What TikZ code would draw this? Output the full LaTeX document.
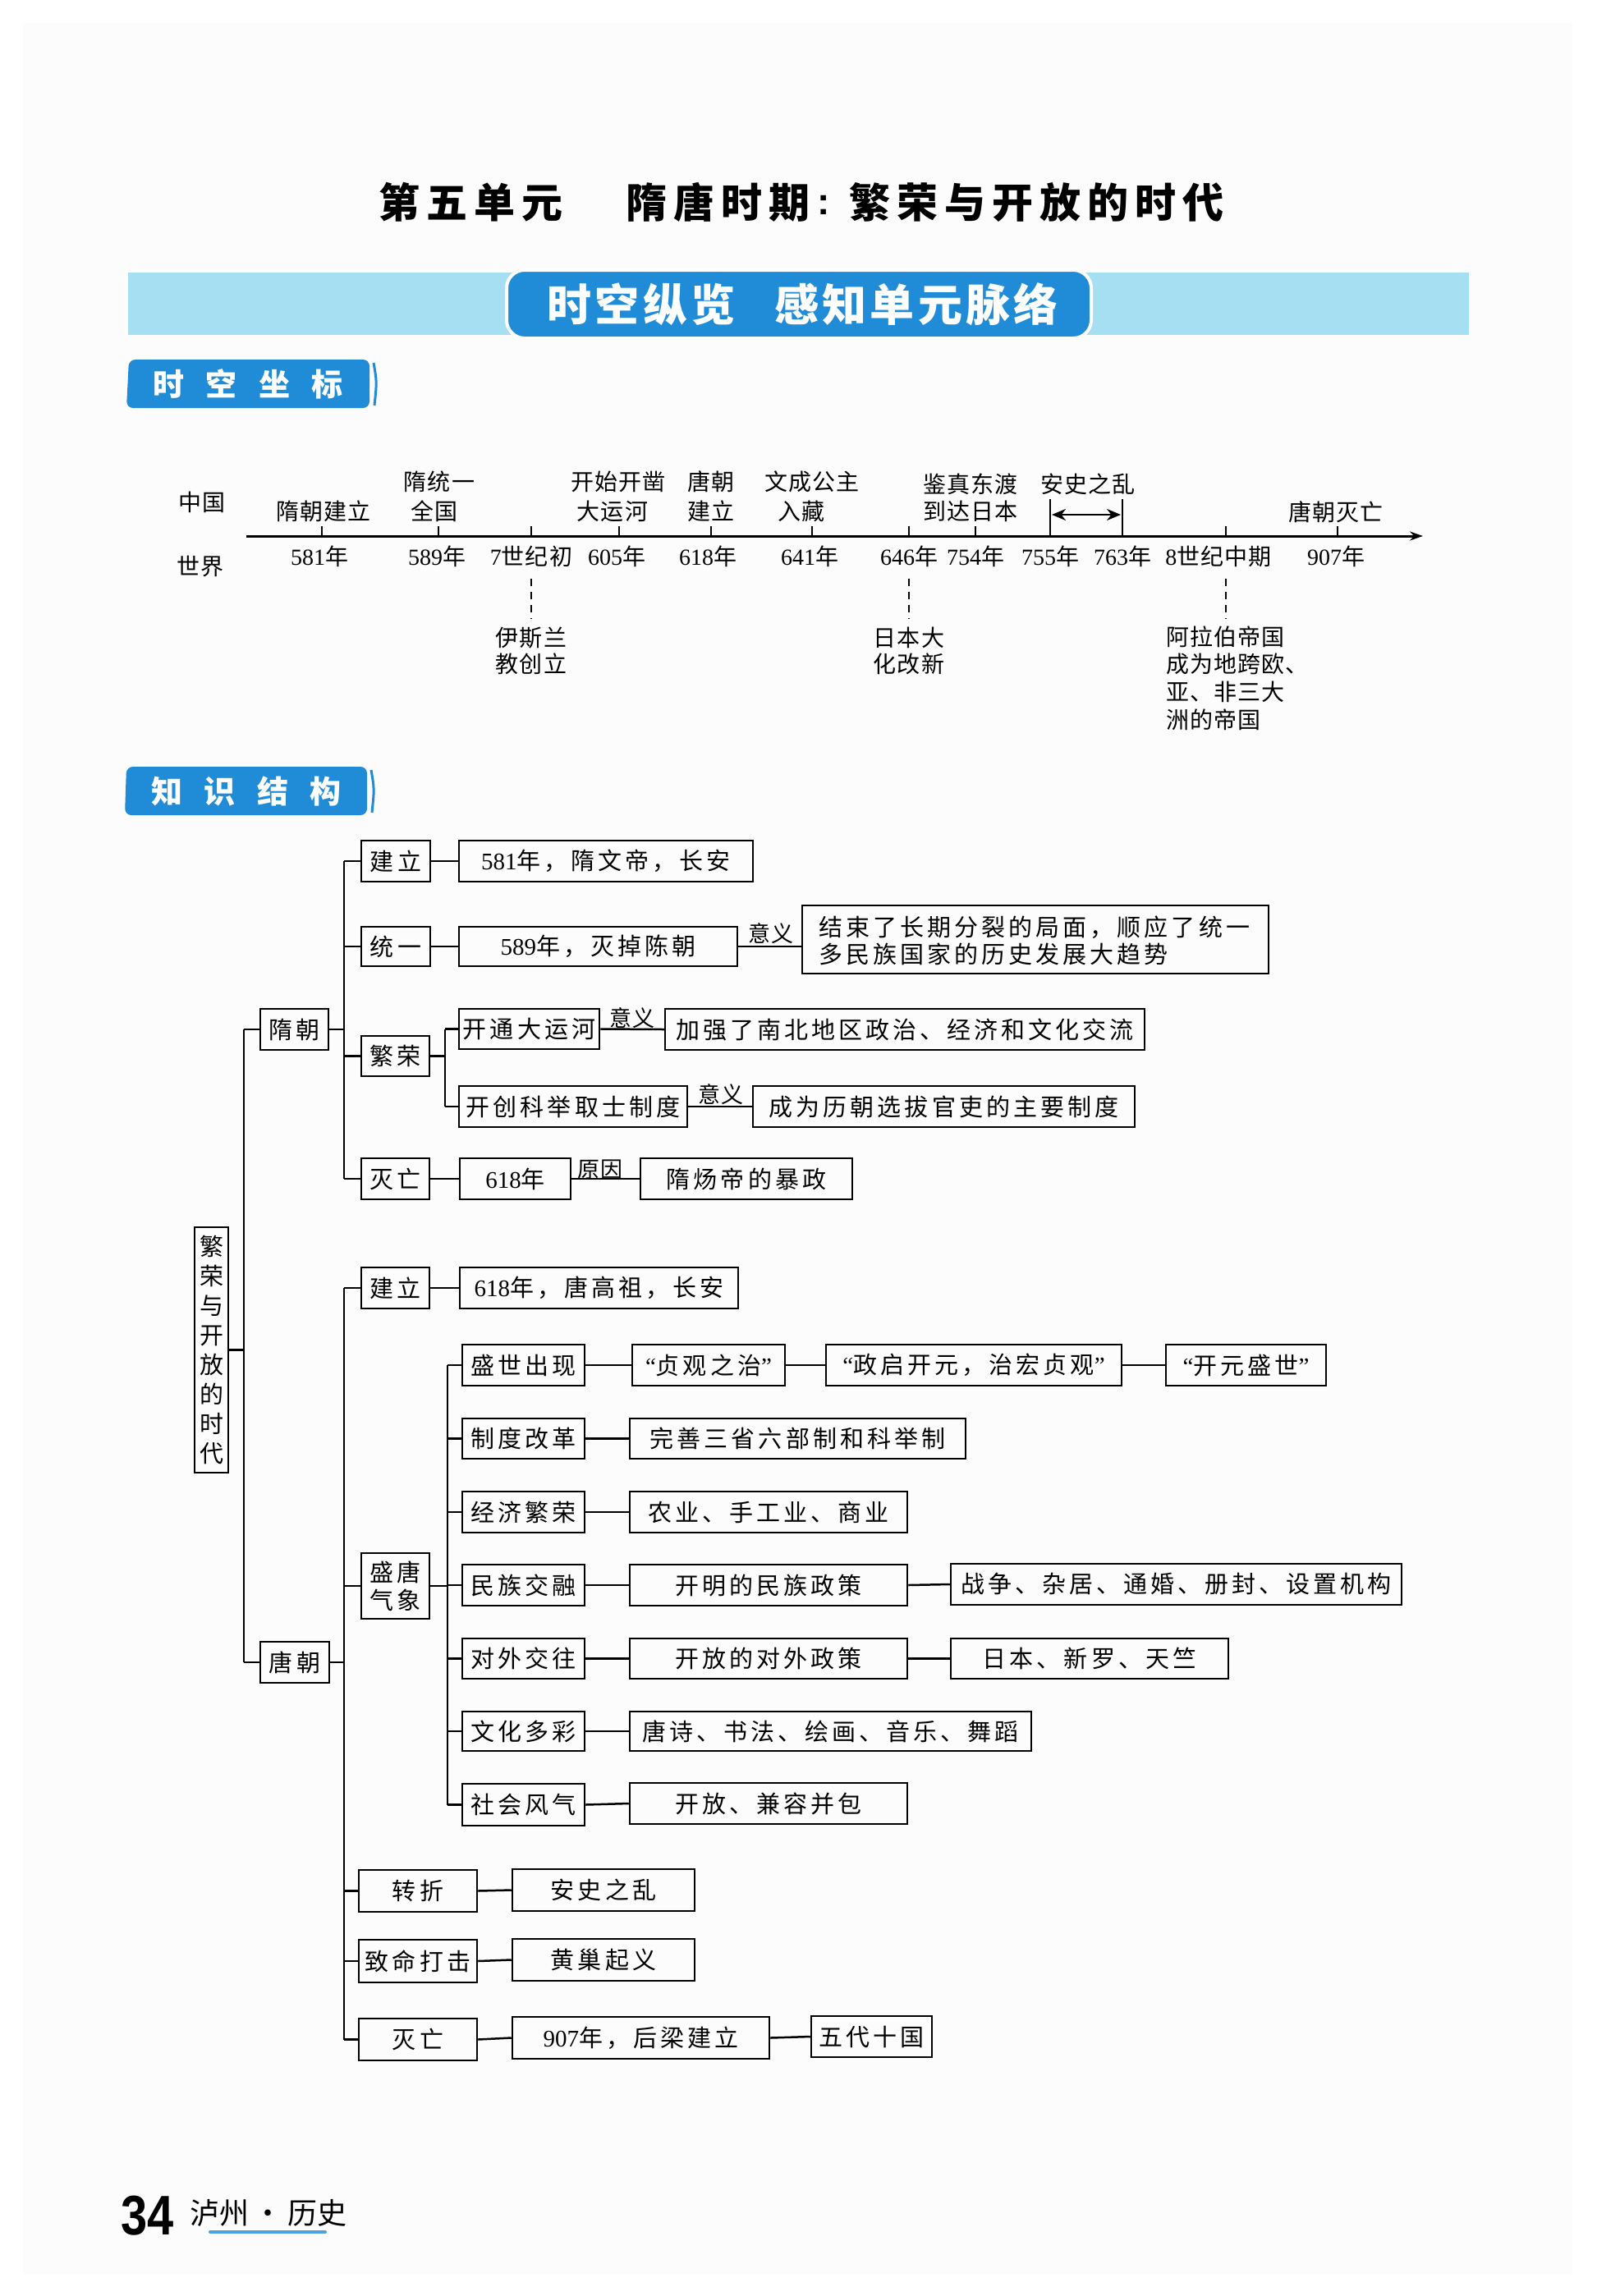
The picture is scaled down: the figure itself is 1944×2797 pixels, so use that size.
\documentclass[tikz,border=0pt]{standalone}
\usepackage{fontspec}
\setmainfont{Noto Sans CJK SC}
\newfontfamily\tnum{Liberation Serif}
\newfontfamily\snum{Liberation Sans}
\newfontfamily\treefont[LetterSpace=14]{Noto Sans CJK SC}
\newfontfamily\tlfont[LetterSpace=4]{Noto Sans CJK SC}
\newfontfamily\titlefont[LetterSpace=16]{Noto Sans CJK SC}
\newfontfamily\bannerfont[LetterSpace=8]{Noto Sans CJK SC}
\newfontfamily\tabfont[LetterSpace=70]{Noto Sans CJK SC}
\usetikzlibrary{arrows.meta}
\definecolor{band}{RGB}{166,222,242}
\definecolor{tabblue}{RGB}{32,140,216}
\definecolor{pagebg}{RGB}{252,252,252}
\newcommand\nm[1]{{\tnum #1}}
\newcommand\bx[6]{\node[tbox, minimum width={#4-#2}, minimum height={#5-#3}] (#1) at ({(#2+#4)/2},{(#3+#5)/2}) {#6};}
\tikzset{
  tbox/.style={draw, line width=2.5pt, inner sep=0pt, font=\treefont\fontsize{29}{33}\selectfont},
  tl/.style={inner sep=0pt, font=\tlfont\fontsize{28}{30}\selectfont},
  lbl/.style={inner sep=0pt, font=\tlfont\fontsize{27}{30}\selectfont},
  conn/.style={line width=2.5pt},
}
\begin{document}
\begin{tikzpicture}[x=1pt,y=-1pt]
\useasboundingbox (0,0) rectangle (1944,2797);
\fill[white] (0,0) rectangle (1944,2797);
\fill[pagebg] (28,28) rectangle (1915,2770);

% title
\begin{scope}[every node/.style={inner sep=0pt, font=\titlefont\bfseries\fontsize{50}{54}\selectfont}]
\node (ti1) at (573,246) {第五单元};
\node (ti2) at (874,246) {隋唐时期};
\node[font=\snum\bfseries\fontsize{46}{50}\selectfont] (ti3) at (1003,250) {:};
\node (ti4) at (1262,246) {繁荣与开放的时代};
\end{scope}

% banner
\fill[band] (156,332) rectangle (1789,408);
\draw[fill=tabblue, draw=white, line width=4pt, rounded corners=22pt] (617,329) rectangle (1329,412);
\node[inner sep=0pt, text=white, font=\bannerfont\bfseries\fontsize{54}{56}\selectfont] (bn1) at (781,371) {时空纵览};
\node[inner sep=0pt, text=white, font=\bannerfont\bfseries\fontsize{54}{56}\selectfont] (bn2) at (1116,371) {感知单元脉络};

% tab 1
\fill[tabblue, rounded corners=8pt] (157,438) -- (450,438) -- (450,497) -- (154,497) -- cycle;
\draw[tabblue, line width=3pt] (455,442) .. controls (459,465) .. (456,494);
\node[inner sep=0pt, anchor=west, text=white, font=\tabfont\bfseries\fontsize{38}{40}\selectfont] (tab1) at (186,468) {时空坐标};

% timeline
\draw[line width=3pt, -{Stealth[length=16pt,width=11pt]}] (300,653) -- (1733,653);
\foreach \x in {392,534,647,754,866,989,1107,1188,1493,1629}
  \draw[line width=2pt] (\x,653) -- (\x,641);
\draw[line width=2.2pt] (1279,608) -- (1279,653);
\draw[line width=2.2pt] (1367,608) -- (1367,653);
\draw[line width=2.6pt, {Stealth[length=17pt,width=14pt]}-{Stealth[length=17pt,width=14pt]}] (1281,627) -- (1365,627);
\foreach \x in {647,1107,1493}
  \draw[line width=1.8pt, dash pattern=on 9pt off 7pt] (\x,705) -- (\x,754);

\node[tl] (zg) at (246,612) {中国};
\node[tl] (sj) at (244,690) {世界};
\node[tl] (a1) at (394,623) {隋朝建立};
\node[tl] (a2) at (535,587) {隋统一};
\node[tl] (a2b) at (529,623) {全国};
\node[tl] (a3) at (753,587) {开始开凿};
\node[tl] (a3b) at (746,623) {大运河};
\node[tl] (a4) at (866,587) {唐朝};
\node[tl] (a4b) at (866,623) {建立};
\node[tl] (a5) at (989,587) {文成公主};
\node[tl] (a5b) at (976,623) {入藏};
\node[tl] (a6) at (1182,590) {鉴真东渡};
\node[tl] (a6b) at (1182,623) {到达日本};
\node[tl] (a7) at (1325,590) {安史之乱};
\node[tl] (a8) at (1627,624) {唐朝灭亡};

\node[tl] (y1) at (389,678) {\nm{581}年};
\node[tl] (y2) at (532,678) {\nm{589}年};
\node[tl] (y3) at (647,678) {\nm{7}世纪初};
\node[tl] (y4) at (751,678) {\nm{605}年};
\node[tl] (y5) at (862,678) {\nm{618}年};
\node[tl] (y6) at (986,678) {\nm{641}年};
\node[tl] (y7) at (1107,678) {\nm{646}年};
\node[tl] (y8) at (1188,678) {\nm{754}年};
\node[tl] (y9) at (1279,678) {\nm{755}年};
\node[tl] (y10) at (1367,678) {\nm{763}年};
\node[tl] (y11) at (1484,678) {\nm{8}世纪中期};
\node[tl] (y12) at (1627,678) {\nm{907}年};

\node[tl] (w1) at (647,777) {伊斯兰};
\node[tl] (w1b) at (647,809) {教创立};
\node[tl] (w2) at (1107,777) {日本大};
\node[tl] (w2b) at (1107,809) {化改新};
\node[tl, anchor=west] (w3) at (1420,776) {阿拉伯帝国};
\node[tl, anchor=west] (w3b) at (1420,809) {成为地跨欧、};
\node[tl, anchor=west] (w3c) at (1420,843) {亚、非三大};
\node[tl, anchor=west] (w3d) at (1420,877) {洲的帝国};

% tab 2
\fill[tabblue, rounded corners=8pt] (154,934) -- (447,934) -- (447,993) -- (152,993) -- cycle;
\draw[tabblue, line width=3pt] (452,938) .. controls (456,961) .. (453,990);
\node[inner sep=0pt, anchor=west, text=white, font=\tabfont\bfseries\fontsize{38}{40}\selectfont] (tab2) at (184,964) {知识结构};

% ---------- tree ----------
\coordinate (rS) at (297,0);
\coordinate (sS) at (419,0);
\coordinate (fS) at (542,0);
\coordinate (tS) at (419,0);
\coordinate (gS) at (545,0);

\node[tbox, minimum width=41, minimum height=299, align=center, font=\treefont\fontsize{29}{36}\selectfont] (root) at (257.5,1644.5) {繁\\荣\\与\\开\\放\\的\\时\\代};

% Sui
\bx{sui}{317}{1229}{400}{1279}{隋朝}
\bx{suijl}{440}{1024}{524}{1074}{建立}
\bx{suijlD}{559}{1024}{917}{1074}{\nm{581}年，隋文帝，长安}
\bx{suity}{440}{1129}{524}{1177}{统一}
\bx{suityD}{559}{1129}{898}{1177}{\nm{589}年，灭掉陈朝}
\node[tbox, minimum width=568, minimum height=83] (suityE) at (1261,1144.5) {};
\node[inner sep=0pt, anchor=west, align=left, font=\treefont\fontsize{29}{33}\selectfont] (suityEt) at (997,1146) {结束了长期分裂的局面，顺应了统一\\多民族国家的历史发展大趋势};
\bx{suifr}{440}{1262}{523}{1311}{繁荣}
\bx{suidyh}{559}{1229}{730}{1278}{开通大运河}
\bx{suidyhE}{810}{1229}{1394}{1279}{加强了南北地区政治、经济和文化交流}
\bx{suikj}{559}{1323}{837}{1373}{开创科举取士制度}
\bx{suikjE}{917}{1323}{1382}{1373}{成为历朝选拔官吏的主要制度}
\bx{suimw}{440}{1411}{523}{1461}{灭亡}
\bx{suimwD}{560}{1411}{695}{1461}{\nm{618}年}
\bx{suimwE}{780}{1411}{1038}{1461}{隋炀帝的暴政}

\node[lbl] (l1) at (939,1137) {意义};
\node[lbl] (l2) at (770,1240) {意义};
\node[lbl] (l3) at (878,1333) {意义};
\node[lbl] (l4) at (731,1425) {原因};

% Tang
\bx{tang}{317}{2000}{401}{2050}{唐朝}
\bx{tangjl}{440}{1544}{523}{1594}{建立}
\bx{tangjlD}{560}{1544}{899}{1594}{\nm{618}年，唐高祖，长安}
\node[tbox, minimum width=83, minimum height=80, align=center, font=\treefont\fontsize{29}{34}\selectfont] (tangsx) at (481.5,1932) {盛唐\\气象};
\bx{t1}{563}{1638}{712}{1688}{盛世出现}
\bx{t1a}{770}{1638}{956}{1688}{\nm{“}贞观之治\nm{”}}
\bx{t1b}{1006}{1638}{1366}{1688}{\nm{“}政启开元，治宏贞观\nm{”}}
\bx{t1c}{1420}{1638}{1615}{1688}{\nm{“}开元盛世\nm{”}}
\bx{t2}{563}{1728}{712}{1777}{制度改革}
\bx{t2a}{767}{1728}{1176}{1777}{完善三省六部制和科举制}
\bx{t3}{563}{1817}{712}{1867}{经济繁荣}
\bx{t3a}{767}{1817}{1105}{1867}{农业、手工业、商业}
\bx{t4}{563}{1906}{712}{1956}{民族交融}
\bx{t4a}{767}{1906}{1105}{1956}{开明的民族政策}
\bx{t4b}{1158}{1905}{1707}{1955}{战争、杂居、通婚、册封、设置机构}
\bx{t5}{563}{1996}{712}{2045}{对外交往}
\bx{t5a}{767}{1996}{1105}{2045}{开放的对外政策}
\bx{t5b}{1158}{1996}{1496}{2045}{日本、新罗、天竺}
\bx{t6}{563}{2085}{712}{2133}{文化多彩}
\bx{t6a}{767}{2085}{1256}{2133}{唐诗、书法、绘画、音乐、舞蹈}
\bx{t7}{563}{2173}{712}{2224}{社会风气}
\bx{t7a}{767}{2172}{1105}{2222}{开放、兼容并包}
\bx{tangzz}{437}{2278}{581}{2329}{转折}
\bx{tangzzD}{624}{2277}{846}{2328}{安史之乱}
\bx{tangzm}{437}{2363}{581}{2415}{致命打击}
\bx{tangzmD}{624}{2362}{846}{2413}{黄巢起义}
\bx{tangmw}{437}{2459}{581}{2510}{灭亡}
\bx{tangmwD}{624}{2457}{937}{2508}{\nm{907}年，后梁建立}
\bx{tangmwE}{988}{2456}{1135}{2506}{五代十国}

% connectors: root
\draw[conn] (root.east) -- (root.east -| rS);
\draw[conn] (rS |- sui.west) -- (rS |- tang.west);
\draw[conn] (rS |- sui.west) -- (sui.west);
\draw[conn] (rS |- tang.west) -- (tang.west);

% connectors: Sui
\draw[conn] (sui.east) -- (sui.east -| sS);
\draw[conn] (sS |- suijl.west) -- (sS |- suimw.west);
\foreach \n in {suijl,suity,suifr,suimw} \draw[conn] (sS |- \n.west) -- (\n.west);
\draw[conn] (suijl.east) -- (suijlD.west);
\draw[conn] (suity.east) -- (suityD.west);
\draw[conn] (suityD.east) -- (suityD.east -| suityE.west);
\draw[conn] (suifr.east) -- (suifr.east -| fS);
\draw[conn] (fS |- suidyh.west) -- (fS |- suikj.west);
\draw[conn] (fS |- suidyh.west) -- (suidyh.west);
\draw[conn] (fS |- suikj.west) -- (suikj.west);
\draw[conn] (suidyh.east) -- (suidyhE.west);
\draw[conn] (suikj.east) -- (suikjE.west);
\draw[conn] (suimw.east) -- (suimwD.west);
\draw[conn] (suimwD.east) -- (suimwE.west);

% connectors: Tang
\draw[conn] (tang.east) -- (tang.east -| tS);
\draw[conn] (tS |- tangjl.west) -- (tS |- tangmw.west);
\foreach \n in {tangjl,tangsx,tangzz,tangzm,tangmw} \draw[conn] (tS |- \n.west) -- (\n.west);
\draw[conn] (tangjl.east) -- (tangjlD.west);
\draw[conn] (tangsx.east) -- (tangsx.east -| gS);
\draw[conn] (gS |- t1.west) -- (gS |- t7.west);
\foreach \n in {t1,t2,t3,t4,t5,t6,t7} \draw[conn] (gS |- \n.west) -- (\n.west);
\draw[conn] (t1.east) -- (t1a.west);
\draw[conn] (t1a.east) -- (t1b.west);
\draw[conn] (t1b.east) -- (t1c.west);
\draw[conn] (t2.east) -- (t2a.west);
\draw[conn] (t3.east) -- (t3a.west);
\draw[conn] (t4.east) -- (t4a.west);
\draw[conn] (t4a.east) -- (t4b.west);
\draw[conn] (t5.east) -- (t5a.west);
\draw[conn] (t5a.east) -- (t5b.west);
\draw[conn] (t6.east) -- (t6a.west);
\draw[conn] (t7.east) -- (t7a.west);
\draw[conn] (tangzz.east) -- (tangzzD.west);
\draw[conn] (tangzm.east) -- (tangzmD.west);
\draw[conn] (tangmw.east) -- (tangmwD.west);
\draw[conn] (tangmwD.east) -- (tangmwE.west);

% footer
\node[inner sep=0pt, xscale=0.85, font=\snum\bfseries\fontsize{68}{70}\selectfont] (pg) at (180,2699) {34};
\node[inner sep=0pt, font=\fontsize{36}{38}\selectfont] (ft) at (327,2696) {泸州\hspace{6pt}·\hspace{6pt}历史};
\draw[tabblue!80, line width=4pt, line cap=round] (256,2719) -- (396,2719);
\end{tikzpicture}
\end{document}
